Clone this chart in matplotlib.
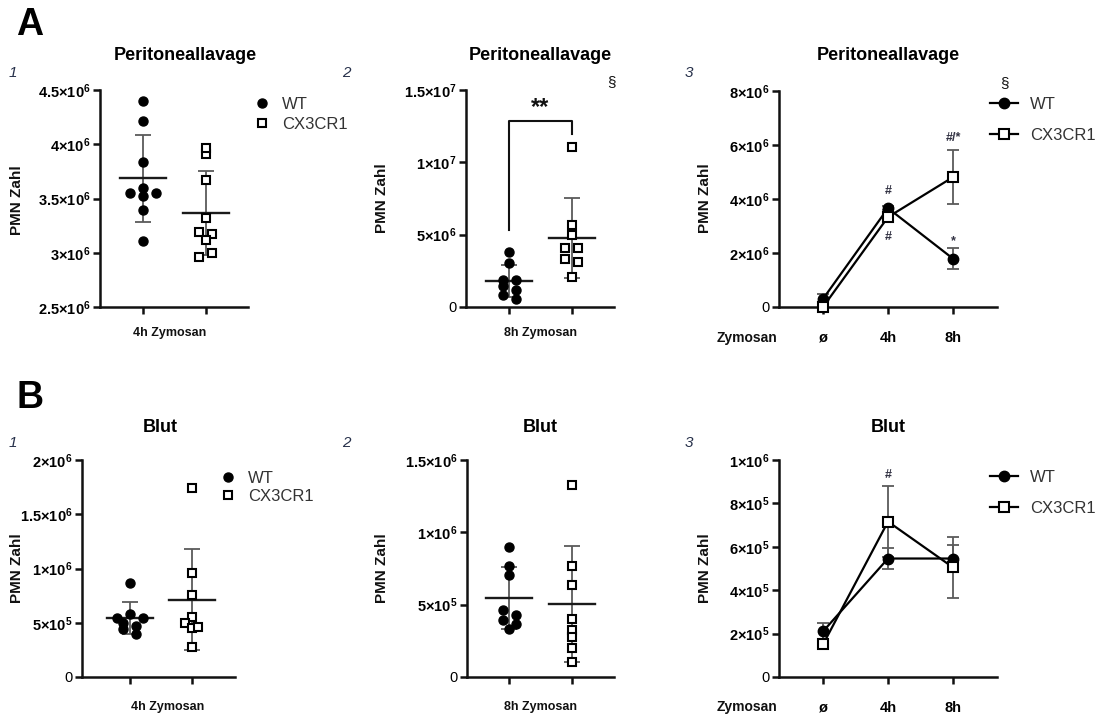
import numpy as np
import matplotlib
matplotlib.use('Agg')
import matplotlib.pyplot as plt
from matplotlib.lines import Line2D

plt.rcParams['font.family'] = ['Liberation Sans', 'DejaVu Sans']
plt.rcParams['mathtext.fontset'] = 'custom'
plt.rcParams['mathtext.rm'] = 'Liberation Sans:bold'
plt.rcParams['mathtext.it'] = 'Liberation Sans:bold:italic'
plt.rcParams['mathtext.bf'] = 'Liberation Sans:bold'
plt.rcParams['mathtext.default'] = 'rm'

# ---------------- data ----------------
groups = ['WT', 'CX3CR1']
timepoints = ['ø', '4h', '8h']

# A1: Peritoneallavage, 4h Zymosan
a1_wt = [4.40e6, 4.21e6, 3.84e6, 3.60e6, 3.55e6, 3.52e6, 3.55e6, 3.39e6, 3.11e6]
a1_cx = [3.91e6, 3.97e6, 3.67e6, 3.32e6, 3.19e6, 3.17e6, 3.12e6, 2.96e6, 3.00e6]
a1_yticks = [2.5e6, 3e6, 3.5e6, 4e6, 4.5e6]
a1_ylabels = [r'$2.5×10^{6}$', r'$3×10^{6}$', r'$3.5×10^{6}$', r'$4×10^{6}$', r'$4.5×10^{6}$']

# A2: Peritoneallavage, 8h Zymosan
a2_wt = [3.77e6, 3.04e6, 1.84e6, 1.84e6, 1.42e6, 1.20e6, 0.85e6, 0.55e6]
a2_cx = [11.04e6, 5.64e6, 4.95e6, 4.07e6, 4.07e6, 3.31e6, 3.11e6, 2.07e6]
a2_yticks = [0, 5e6, 1e7, 1.5e7]
a2_ylabels = ['0', r'$5×10^{6}$', r'$1×10^{7}$', r'$1.5×10^{7}$']

# A3: Peritoneallavage time course (mean +/- SEM)
a3_wt_mean = [0.30e6, 3.66e6, 1.79e6]
a3_wt_err = [0.18e6, 0.08e6, 0.38e6]
a3_cx_mean = [0.00e6, 3.33e6, 4.81e6]
a3_cx_err = [0.12e6, 0.08e6, 1.00e6]
a3_yticks = [0, 2e6, 4e6, 6e6, 8e6]
a3_ylabels = ['0', r'$2×10^{6}$', r'$4×10^{6}$', r'$6×10^{6}$', r'$8×10^{6}$']

# B1: Blut, 4h Zymosan
b1_wt = [0.87e6, 0.54e6, 0.58e6, 0.54e6, 0.50e6, 0.47e6, 0.44e6, 0.40e6]
b1_cx = [1.74e6, 0.96e6, 0.76e6, 0.55e6, 0.50e6, 0.45e6, 0.46e6, 0.28e6]
b1_yticks = [0, 5e5, 1e6, 1.5e6, 2e6]
b1_ylabels = ['0', r'$5×10^{5}$', r'$1×10^{6}$', r'$1.5×10^{6}$', r'$2×10^{6}$']

# B2: Blut, 8h Zymosan
b2_wt = [0.897e6, 0.768e6, 0.706e6, 0.462e6, 0.428e6, 0.396e6, 0.368e6, 0.334e6]
b2_cx = [1.325e6, 0.768e6, 0.637e6, 0.400e6, 0.327e6, 0.276e6, 0.200e6, 0.101e6]
b2_yticks = [0, 5e5, 1e6, 1.5e6]
b2_ylabels = ['0', r'$5×10^{5}$', r'$1×10^{6}$', r'$1.5×10^{6}$']

# B3: Blut time course (mean +/- SEM)
b3_wt_mean = [0.21e6, 0.546e6, 0.546e6]
b3_wt_err = [0.04e6, 0.048e6, 0.063e6]
b3_cx_mean = [0.15e6, 0.716e6, 0.505e6]
b3_cx_err = [0.02e6, 0.165e6, 0.14e6]
b3_yticks = [0, 2e5, 4e5, 6e5, 8e5, 1e6]
b3_ylabels = ['0', r'$2×10^{5}$', r'$4×10^{5}$', r'$6×10^{5}$', r'$8×10^{5}$', r'$1×10^{6}$']

# ---------------- figure ----------------
W, H = 1095, 718
fig = plt.figure(figsize=(W / 100, H / 100), dpi=100)
fig.patch.set_facecolor('white')

ERR = '#5a5a5a'
LW_SP = 1.8


def add_ax(left, top, right, bottom):
    return fig.add_axes([left / W, 1 - bottom / H, (right - left) / W, (bottom - top) / H])


def T(x, y, s, **kw):
    kw.setdefault('ha', 'center')
    kw.setdefault('va', 'center')
    return fig.text(x / W, 1 - y / H, s, **kw)


def style_ax(ax, yticks, ylabels, ylim, xlim):
    ax.set_ylim(*ylim)
    ax.set_xlim(*xlim)
    for s in ['top', 'right']:
        ax.spines[s].set_visible(False)
    for s in ['left', 'bottom']:
        ax.spines[s].set_linewidth(LW_SP)
        ax.spines[s].set_color('#111111')
    ax.set_yticks(yticks)
    ax.set_yticklabels(ylabels)
    ax.tick_params(axis='both', direction='out', length=5, width=LW_SP, color='#111111',
                   labelsize=10.5, pad=2)
    ax.patch.set_alpha(0)


def swarm_offsets(vals, px_per_y, thresh_px, step):
    vals = np.asarray(vals, dtype=float)
    order = np.argsort(-vals, kind='stable')
    rows, cur = [], [order[0]]
    for idx in order[1:]:
        if (vals[cur[0]] - vals[idx]) * px_per_y < thresh_px:
            cur.append(idx)
        else:
            rows.append(cur)
            cur = [idx]
    rows.append(cur)
    offs = np.zeros(len(vals))
    for r in rows:
        r = sorted(r)
        n = len(r)
        for k, idx in enumerate(r):
            offs[idx] = (k - (n - 1) / 2) * step
    return offs


def scatter_panel(box, xlim, ylim, wt, cx, yticks, ylabels):
    ax = add_ax(*box)
    style_ax(ax, yticks, ylabels, ylim, xlim)
    ax.set_xticks([0, 1])
    ax.set_xticklabels(['', ''])
    w_px = box[2] - box[0]
    h_px = box[3] - box[1]
    px_per_y = h_px / (ylim[1] - ylim[0])
    px_per_x = w_px / (xlim[1] - xlim[0])
    step = 13 / px_per_x
    for i, (vals, mk) in enumerate([(wt, 'o'), (cx, 's')]):
        vals = np.asarray(vals)
        offs = swarm_offsets(vals, px_per_y, 5.0, step)
        m = vals.mean()
        sd = vals.std(ddof=1)
        ax.errorbar(i, m, yerr=sd, fmt='none', ecolor=ERR, elinewidth=1.3,
                    capsize=5.5, capthick=1.3, zorder=2)
        ax.plot([i - 0.37, i + 0.37], [m, m], color='#1a1a1a', lw=1.7, zorder=3)
        if mk == 'o':
            ax.plot(i + offs, vals, ls='none', marker='o', ms=6.5, mfc='black',
                    mec='black', zorder=4, clip_on=False)
        else:
            ax.plot(i + offs, vals, ls='none', marker='s', ms=6.0, mfc='white',
                    mec='black', mew=1.5, zorder=4, clip_on=False)
    return ax


def line_panel(box, xlim, ylim, wt_m, wt_e, cx_m, cx_e, yticks, ylabels):
    ax = add_ax(*box)
    style_ax(ax, yticks, ylabels, ylim, xlim)
    x = np.arange(len(timepoints))
    ax.set_xticks(x)
    ax.set_xticklabels(timepoints, fontweight='bold', fontsize=10.5)
    ax.tick_params(axis='x', pad=12)
    ax.errorbar(x, wt_m, yerr=wt_e, fmt='none', ecolor=ERR, elinewidth=1.3,
                capsize=4.5, capthick=1.3, zorder=2, clip_on=False)
    ax.errorbar(x, cx_m, yerr=cx_e, fmt='none', ecolor=ERR, elinewidth=1.3,
                capsize=4.5, capthick=1.3, zorder=2, clip_on=False)
    ax.plot(x, wt_m, color='black', lw=1.6, marker='o', ms=7.5, mfc='black',
            zorder=3, clip_on=False)
    ax.plot(x, cx_m, color='black', lw=1.6, marker='s', ms=7, mfc='white',
            mew=1.5, zorder=4, clip_on=False)
    return ax


XL2 = (-0.683, 1.667)
XL3 = (-0.677, 2.677)

# ---- A1 ----
axA1 = scatter_panel((100, 90, 248, 307), XL2, (2.5e6, 4.5e6), a1_wt, a1_cx, a1_yticks, a1_ylabels)
# ---- A2 ----
axA2 = scatter_panel((466, 90, 614, 307), XL2, (0, 1.5e7), a2_wt, a2_cx, a2_yticks, a2_ylabels)
# significance bracket
br_top = max(a2_cx) + 1.8e6
axA2.plot([0, 0, 1, 1], [max(a2_wt) + 1.55e6, br_top, br_top, max(a2_cx) + 0.9e6],
          color='#111111', lw=1.5, clip_on=False)
axA2.text(0.5, br_top + 0.15e6, '**', ha='center', va='bottom', fontsize=17,
          fontweight='bold', color='#111111')
# ---- A3 ----
axA3 = line_panel((779, 91, 997, 307), XL3, (0, 8e6), a3_wt_mean, a3_wt_err,
                  a3_cx_mean, a3_cx_err, a3_yticks, a3_ylabels)
ann = dict(ha='center', va='center', fontsize=9, fontweight='bold', color='#333344')
axA3.text(1, a3_wt_mean[1] + 0.65e6, '#', **ann)
axA3.text(1, a3_cx_mean[1] - 0.75e6, '#', **ann)
axA3.text(2, a3_cx_mean[2] + a3_cx_err[2] + 0.45e6, '#/*', **ann)
axA3.text(2, a3_wt_mean[2] + a3_wt_err[2] + 0.25e6, '*', **ann)

# ---- B1 ----
axB1 = scatter_panel((82, 460, 235, 677), (-0.774, 1.694), (0, 2e6), b1_wt, b1_cx, b1_yticks, b1_ylabels)
# ---- B2 ----
axB2 = scatter_panel((467, 460, 614, 677), (-0.667, 1.667), (0, 1.5e6), b2_wt, b2_cx, b2_yticks, b2_ylabels)
# ---- B3 ----
axB3 = line_panel((779, 460, 997, 677), XL3, (0, 1e6), b3_wt_mean, b3_wt_err,
                  b3_cx_mean, b3_cx_err, b3_yticks, b3_ylabels)
axB3.text(1, b3_cx_mean[1] + b3_cx_err[1] + 0.05e6, '#', **ann)


# ---------------- legends ----------------
def dot_handles():
    return [Line2D([], [], ls='none', marker='o', ms=6.5, mfc='black', mec='black'),
            Line2D([], [], ls='none', marker='s', ms=6, mfc='white', mec='black', mew=1.5)]


def line_handles():
    return [Line2D([], [], color='black', lw=1.6, marker='o', ms=7.5, mfc='black'),
            Line2D([], [], color='black', lw=1.6, marker='s', ms=7, mfc='white', mew=1.5)]


def add_legend(handles, x, y, spacing, hl):
    leg = fig.legend(handles, groups, loc='upper left', bbox_to_anchor=(x / W, 1 - y / H),
                     frameon=False, fontsize=12, handlelength=hl, handletextpad=0.7,
                     labelspacing=spacing, borderpad=0, borderaxespad=0)
    for t in leg.get_texts():
        t.set_color('#333333')
    return leg


add_legend(dot_handles(), 254, 97, 0.28, 1.0)
add_legend(dot_handles(), 220, 471, 0.18, 1.0)
add_legend(line_handles(), 990, 97, 0.95, 1.7)
add_legend(line_handles(), 990, 470, 0.95, 1.7)

# ---------------- texts ----------------
T(30, 25, 'A', fontsize=27, fontweight='bold', color='black')
T(30, 398, 'B', fontsize=27, fontweight='bold', color='black')

for x, yy in [(185, 55), (540, 55), (888, 55)]:
    T(x, yy, 'Peritoneallavage', fontsize=13, fontweight='bold', color='black')
for x, yy in [(160, 427), (540, 427), (888, 427)]:
    T(x, yy, 'Blut', fontsize=13, fontweight='bold', color='black')

for (x, yy), s in zip([(13, 73), (346, 73), (689, 73), (13, 443), (346, 443), (689, 443)],
                      ['1', '2', '3', '1', '2', '3']):
    T(x, yy, s, fontsize=11, fontstyle='italic', color='#26304a')

for x, yy in [(17, 200), (382, 198), (705, 198), (17, 568), (382, 568), (705, 568)]:
    T(x, yy, 'PMN Zahl', fontsize=11, fontweight='bold', rotation=90, color='#111111')

T(170, 333, '4h Zymosan', fontsize=9, fontweight='bold', color='#111111')
T(540, 333, '8h Zymosan', fontsize=9, fontweight='bold', color='#111111')
T(168, 707, '4h Zymosan', fontsize=9, fontweight='bold', color='#111111')
T(540, 707, '8h Zymosan', fontsize=9, fontweight='bold', color='#111111')
T(747, 338, 'Zymosan', fontsize=10, fontweight='bold', color='#111111')
T(747, 707, 'Zymosan', fontsize=10, fontweight='bold', color='#111111')

T(611, 82, '§', fontsize=11, color='#111111')
T(1004, 83, '§', fontsize=11, color='#111111')

fig.savefig('out.png', dpi=100, facecolor='white')
